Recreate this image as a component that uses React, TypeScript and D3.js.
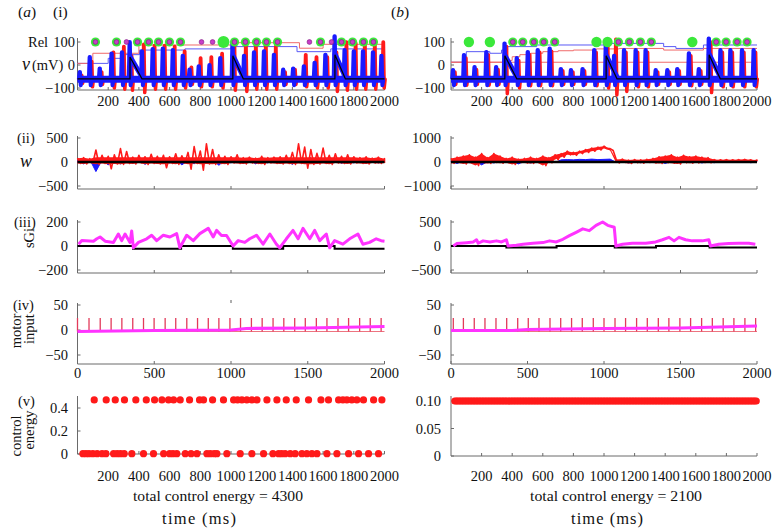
import React from "react";
import * as d3 from "d3";

// ---------------- shared ticks ----------------
const xTicksFine = [200, 400, 600, 800, 1000, 1200, 1400, 1600, 1800, 2000];
const xTicksCoarse = [0, 500, 1000, 1500, 2000];

// ---------------- row (i): membrane potential ----------------
const burstTimeA = [15, 80, 145, 222, 290, 340, 420, 490, 556, 621, 686, 730, 790, 860, 930, 1010, 1085, 1150, 1215, 1280, 1340, 1405, 1475, 1545, 1615, 1675, 1740, 1800, 1860, 1925, 1980];
const burstBlueA = [-30, 35, -15, 50, 55, 100, 60, 70, 72, 65, 40, -20, -5, 0, 30, 95, 40, 55, 60, 45, -20, -15, -5, 10, 45, 125, 65, 60, 60, 55, 40];
const burstRedA = [-45, 15, -30, 55, 80, 40, 90, 85, 85, 80, 60, -10, 30, 35, 50, 100, 95, 90, 90, 80, -30, -20, 45, 35, 35, 55, 100, 95, 95, 90, 100];
const burstRedTroughA = [-80, -95, -85, -100, -105, -110, -120, -105, -105, -105, -100, -85, -95, -95, -100, -110, -115, -105, -105, -105, -85, -85, -95, -100, -100, -115, -110, -105, -105, -105, -100];

const burstTimeB = [13, 85, 154, 231, 295, 350, 430, 502, 567, 645, 718, 784, 860, 936, 1012, 1066, 1131, 1207, 1272, 1338, 1414, 1479, 1555, 1620, 1685, 1761, 1826, 1902, 1978];
const burstBlueB = [-22, 43, -9, 57, -9, 94, 30, 57, 65, 72, -17, -22, -17, 65, 94, 40, 65, 65, 65, -22, -22, -17, 51, -17, 115, 65, 65, 65, 65];
const burstRedB = [-30, 30, -20, 45, -20, 80, 20, 45, 55, 60, -25, -30, -25, 55, 80, 112, 55, 55, 55, -30, -30, -25, 40, -25, 100, 55, 55, 55, 55];
const burstRedTroughB = [-85, -88, -85, -88, -85, -125, -100, -90, -90, -90, -85, -85, -85, -90, -100, -130, -115, -95, -95, -85, -85, -85, -90, -85, -120, -95, -95, -95, -95];

const vBase = -62;
const vBlueTrough = -88;

const rampStartA = [342, 1012, 1677];
const rampEndA = [420, 1080, 1745];
const rampTopA = [35, 40, 45];
const rampStartB = [352, 1014, 1687];
const rampEndB = [430, 1085, 1760];
const rampTopB = [40, 40, 45];
const rampBottom = -52;

const relRedTA = [0, 100, 400, 1010, 1446, 1600, 2000];
const relRedVA = [7, 51, 87, 97, 73, 90, 90];
const relBlueTA = [0, 200, 300, 404, 700, 1000, 1430, 1650, 2000];
const relBlueVA = [7, 29, 45, 65, 70, 80, 58, 70, 70];
const relRedTB = [0, 370, 400, 450, 520, 600, 700, 800, 950, 1100, 1390, 1650, 2000];
const relRedVB = [12, 20, 36, 45, 51, 58, 62, 65, 70, 72, 65, 72, 72];
const relRedLowVB = 12;
const relBlueTB = [0, 100, 254, 330, 370, 560, 1000, 1390, 1470, 1650, 2000];
const relBlueVB = [12, 58, 51, 65, 80, 87, 94, 80, 72, 87, 87];

const greenMagA = [117, 254, 391, 463, 528, 599, 671, 1023, 1094, 1166, 1231, 1303, 1583, 1720, 1792, 1863, 1928];
const greenOnlyA = [951];
const magOnlyA = [319, 808, 880, 1511, 1655];
const greenMagB = [404, 469, 541, 606, 678, 1094, 1166, 1238, 1309, 1733, 1798, 1870, 1935];
const greenOnlyB = [117, 254, 951, 1023, 1577];
const magOnlyB: number[] = [];
const markerLevel = 100;

// ---------------- row (ii): w ----------------
const wStep = 40;
const redUpA = [80, 90, 70, 250, 140, 120, 150, 280, 220, 100, 140, 110, 160, 120, 140, 110, 170, 130, 200, 320, 230, 380, 260, 150, 120, 110, 150, 90, 100, 80, 120, 90, 100, 110, 140, 200, 380, 310, 260, 180, 290, 140, 170, 120, 150, 110, 90, 110, 80, 100, 70];
const redLoA = [-30, -40, -20, -50, -30, -140, -40, -50, -30, -40, -20, -50, -30, -40, -120, -30, -50, -20, -150, -30, -170, -40, -50, -30, -50, -20, -30, -40, -20, -30, -50, -20, -30, -40, -30, -50, -30, -130, -50, -40, -30, -50, -20, -30, -40, -20, -30, -40, -20, -30, -20];
const blueWA = [30, -40, 50, -200, 40, -60, 60, -40, 70, -30, 60, -50, 40, -30, 80, -20, 50, -60, 30, -40, 90, -30, 60, -70, 40, -20, 60, -30, 50, -40, 30, -20, 50, -30, 40, -50, 70, -30, 90, -40, 60, -20, 80, -30, 50, -20, 40, -30, 50, -20, 30];
const redUpB = [150, 200, 250, 300, 200, 350, 180, 350, 250, 150, 200, 120, 150, 200, 150, 250, 180, 300, 350, 450, 400, 450, 520, 580, 620, 660, 560, 100, 120, 80, 100, 90, 110, 150, 220, 250, 300, 200, 280, 220, 250, 200, 180, 100, 90, 100, 90, 100, 110, 90, 80];
const redLoB = [-60, -20, -80, -40, -150, -30, -60, -20, -50, -30, -100, -20, -40, -60, -20, -150, -30, 100, 200, 300, 280, 350, 400, 450, 500, 560, 480, -40, -20, -60, -30, -50, -20, -40, -60, -30, -50, -80, -30, -50, -40, -20, -30, 20, 30, 20, 30, 20, 30, 20, 30];
const blueWB = [20, -60, 30, -30, 40, -120, 20, -40, 30, -20, 40, -80, 30, -40, 20, -30, 40, -20, 90, 100, 90, 110, 100, 120, 100, 110, 120, -20, 30, -40, 20, -30, 40, -20, 30, -60, 20, -30, 40, -20, 30, -40, 20, -30, 20, -20, 30, -20, 20, -30, 20];
const wCoreHigh = 100;
const wCoreLow = -45;

// ---------------- row (iii): sGi ----------------
const sgiTA = [7, 28, 104, 126, 147, 180, 234, 266, 288, 310, 342, 353, 364, 397, 451, 483, 516, 559, 602, 646, 667, 711, 754, 797, 852, 884, 906, 938, 971, 1014, 1047, 1090, 1122, 1166, 1209, 1253, 1296, 1317, 1361, 1404, 1437, 1469, 1513, 1545, 1578, 1621, 1643, 1675, 1729, 1773, 1827, 1859, 1903, 1946, 1978, 2000];
const sgiVA = [15, 45, 40, 60, 75, 40, 30, 100, 45, 100, 30, 125, -15, 30, 60, 90, 45, 90, 75, 103, -15, 90, 45, 103, 147, 75, 130, 88, 88, 0, 45, 30, 60, 90, 15, 100, 15, -15, 60, 130, 60, 147, 60, 130, 45, 100, -15, 45, 15, 60, 100, 15, 30, 60, 44, 40];
const sgiBlackTA = [0, 362, 675, 1012, 1340, 1675, 2000];
const sgiBlackVA = [0, -22, 0, -22, 0, -22, -22];
const sgiTB = [15, 37, 102, 145, 167, 178, 210, 254, 297, 330, 362, 373, 427, 471, 536, 601, 644, 688, 731, 774, 818, 861, 904, 948, 991, 1024, 1067, 1078, 1121, 1186, 1273, 1338, 1382, 1425, 1458, 1490, 1533, 1577, 1642, 1685, 1696, 1750, 1815, 1881, 1946, 1989];
const sgiVB = [0, 50, 70, 85, 130, 57, 107, 85, 107, 85, 130, 0, 14, 36, 57, 71, 107, 85, 140, 215, 285, 357, 320, 430, 500, 430, 390, 0, 36, 57, 57, 85, 130, 180, 107, 180, 130, 107, 107, 130, 0, 36, 50, 57, 57, 36];
const sgiBlackTB = [0, 362, 690, 1070, 1340, 1690, 2000];
const sgiBlackVB = [0, -30, 0, -30, 0, -30, -30];

// ---------------- row (iv): motor input ----------------
const pulseTA = [0, 75, 148, 219, 289, 360, 430, 499, 571, 640, 712, 782, 852, 921, 993, 1062, 1133, 1203, 1274, 1344, 1415, 1484, 1556, 1625, 1697, 1766, 1838, 1907, 1978];
const pulseTB = [15, 81, 152, 222, 294, 364, 436, 505, 575, 647, 717, 788, 858, 930, 1000, 1072, 1141, 1213, 1283, 1355, 1424, 1496, 1566, 1638, 1708, 1779, 1849, 1921, 1991];
const pulseTop = 24;
const pulseBase = -3;
const motorTA = [0, 500, 1000, 1100, 1500, 2000];
const motorVA = [-3, -1, 0, 3, 4, 7];
const motorTB = [0, 400, 500, 1000, 1500, 2000];
const motorVB = [-1, -1, 1, 3, 4, 8];

// ---------------- row (v): control energy ----------------
const ceHighA = 0.47;
const ceLowA = 0.003;
const ceUpperTA = [109, 187, 246, 306, 380, 448, 502, 550, 593, 626, 669, 730, 795, 821, 880, 951, 1017, 1043, 1071, 1103, 1136, 1169, 1234, 1299, 1360, 1425, 1505, 1586, 1635, 1701, 1729, 1755, 1787, 1820, 1863, 1929, 1983];
const ceLowerTA = [35, 55, 75, 100, 128, 160, 185, 235, 258, 280, 304, 354, 430, 495, 561, 600, 622, 647, 702, 740, 778, 843, 865, 890, 908, 973, 1060, 1136, 1212, 1273, 1310, 1330, 1353, 1386, 1418, 1462, 1494, 1527, 1560, 1625, 1690, 1766, 1831, 1896, 1961];
const ceLevelB = 0.1;
const ceSampleTB = d3.range(25, 2001, 10);
const totalEnergyA = 4300;
const totalEnergyB = 2100;

// ---------------- styling ----------------
const FONT = "'Liberation Serif', 'Times New Roman', Times, serif";
const AX = "#6a6a6a";
const RED = "#ff1a1a";
const BLUE = "#1a1aff";
const MAG = "#ff33ff";
const GREEN = "#3be83b";
const TXT = "#111";
const FS = 14.5;

type P = [number, number];

function spikeTrace(times: number[], peaks: number[], troughs: number[], shift: number): P[] {
  const pts: P[] = [[0, vBase]];
  times.forEach((t0, i) => {
    const t = t0 + shift;
    pts.push([t - 6, vBase], [t - 1, peaks[i]], [t + 1, peaks[i]], [t + 6, troughs[i]], [t + 12, vBase]);
  });
  pts.push([2000, vBase]);
  return pts;
}

type PanelData = {
  xRange: [number, number];
  bt: number[]; bb: number[]; br: number[]; brt: number[];
  rs: number[]; re: number[]; rtop: number[];
  relR: P[]; relB: P[]; relR2?: P[];
  gm: number[]; go: number[]; mo: number[]; goR: number;
  wDomain: number; redUp: number[]; redLo: number[]; blueW: number[]; wCore: boolean;
  sDomain: number; sgi: P[]; sgiBlack: P[];
  pulses: number[]; motor: P[];
  vDomain: [number, number]; vRange: [number, number];
  ceTicks: number[]; ceFmt: (v: number) => string;
  ceDots: P[];
  labelRightI: number; labelRight: number;
  total: number; totalX: number; totalW: number; timeX: number; timeW: number;
};

function YAxis({ x0, y, ticks, top, bottom, right, fmt }: { x0: number; y: d3.ScaleLinear<number, number>; ticks: number[]; top: number; bottom: number; right: number; fmt: (v: number) => string }) {
  return (
    <g>
      <line x1={x0} x2={x0} y1={top} y2={bottom} stroke={AX} strokeWidth={1} />
      {ticks.map((t) => (
        <g key={t}>
          <line x1={x0} x2={x0 + 3} y1={y(t)} y2={y(t)} stroke={AX} />
          <text x={right} y={y(t)} dy="0.35em" textAnchor="end" fontSize={FS} fill={TXT}>{fmt(t)}</text>
        </g>
      ))}
    </g>
  );
}

function XAxis({ x, y0, ticks, labels, labelY }: { x: d3.ScaleLinear<number, number>; y0: number; ticks: number[]; labels?: boolean; labelY?: number }) {
  return (
    <g>
      <line x1={x(0)} x2={x(2000)} y1={y0} y2={y0} stroke={AX} />
      {ticks.map((t) => (
        <line key={t} x1={x(t)} x2={x(t)} y1={y0} y2={y0 - 3} stroke={AX} />
      ))}
      {labels && ticks.map((t) => (
        <text key={"l" + t} x={x(t)} y={labelY} dy="0.35em" textAnchor="middle" fontSize={FS} fill={TXT}>{t}</text>
      ))}
    </g>
  );
}

const fmtNum = (v: number) => (v < 0 ? "\u2212" + Math.abs(v) : String(v));

function Panel({ d }: { d: PanelData }) {
  const x = d3.scaleLinear().domain([0, 2000]).range(d.xRange);
  const x0 = d.xRange[0];
  const y1 = d3.scaleLinear().domain([-100, 100]).range([88, 42]);
  const y2 = d3.scaleLinear().domain([-d.wDomain, d.wDomain]).range([186, 138]);
  const y3 = d3.scaleLinear().domain([-d.sDomain, d.sDomain]).range([270, 222]);
  const y4 = d3.scaleLinear().domain([-50, 50]).range([355, 305]);
  const y5 = d3.scaleLinear().domain(d.vDomain).range(d.vRange);

  const l1 = d3.line<P>().x((p) => x(p[0])).y((p) => y1(p[1]));
  const step1 = d3.line<P>().x((p) => x(p[0])).y((p) => y1(p[1])).curve(d3.curveStepAfter);

  const red = spikeTrace(d.bt, d.br, d.brt, 12);
  const blue = spikeTrace(d.bt, d.bb, d.bt.map(() => vBlueTrough), 0);
  const black: P[] = [[0, vBase + 2]];
  d.rs.forEach((s, i) => {
    black.push([s, vBase + 2], [s, d.rtop[i]], [d.re[i], vBase + 2]);
  });
  black.push([2000, vBase + 2]);

  // row ii
  const wT = d.redUp.map((_, i) => i * wStep);
  const redCore = d3.area<number>().x((_, i) => x(wT[i]))
    .y0((_, i) => y2(Math.max(d.redLo[i], wCoreLow)))
    .y1((v) => y2(Math.min(v, wCoreHigh)));
  const redArea = d3.area<number>().x((_, i) => x(wT[i])).y0((_, i) => y2(d.redLo[i])).y1((v) => y2(v));
  const redZig: P[] = [];
  wT.forEach((t, i) => {
    redZig.push([t, d.redUp[i]], [Math.min(t + 20, 2000), d.redLo[i]]);
  });
  const l2 = d3.line<P>().x((p) => x(p[0])).y((p) => y2(p[1]));
  const blueArea = d3.area<number>().x((_, i) => x(wT[i])).y0(y2(0)).y1((v) => y2(v));

  const l3 = d3.line<P>().x((p) => x(p[0])).y((p) => y3(p[1]));
  const s3 = d3.line<P>().x((p) => x(p[0])).y((p) => y3(p[1])).curve(d3.curveStepAfter);
  const l4 = d3.line<P>().x((p) => x(p[0])).y((p) => y4(p[1]));

  return (
    <g>
      {/* ---------- row (i) ---------- */}
      <YAxis x0={x0} y={y1} ticks={[-100, 0, 100]} top={38} bottom={90} right={d.labelRightI} fmt={fmtNum} />
      <XAxis x={x} y0={90} ticks={xTicksFine} labels labelY={101} />
      <path d={step1(d.relB) || ""} fill="none" stroke="#5a5af5" strokeWidth={1} />
      <path d={step1(d.relR) || ""} fill="none" stroke="#f06a6a" strokeWidth={1} />
      {d.relR2 && <path d={step1(d.relR2) || ""} fill="none" stroke="#f06a6a" strokeWidth={1} />}
      <path d={l1(red) || ""} fill="none" stroke={RED} strokeWidth={3.5} strokeLinejoin="round" />
      <line x1={x(0)} x2={x(2000)} y1={y1(vBase)} y2={y1(vBase)} stroke={BLUE} strokeWidth={7} />
      <path d={l1(blue) || ""} fill="none" stroke={BLUE} strokeWidth={4} strokeLinejoin="round" />
      {d.rs.map((s, i) => (
        <line key={i} x1={x(s + 2)} y1={y1(d.rtop[i])} x2={x(d.re[i])} y2={y1(rampBottom)} stroke={BLUE} strokeWidth={5} strokeLinecap="round" />
      ))}
      <path d={l1(black) || ""} fill="none" stroke="#000" strokeWidth={1.2} />
      {d.go.map((t) => (
        <circle key={"go" + t} cx={x(t)} cy={y1(markerLevel)} r={d.goR} fill={GREEN} />
      ))}
      {d.gm.map((t) => (
        <g key={"gm" + t}>
          <circle cx={x(t)} cy={y1(markerLevel)} r={4.6} fill={GREEN} />
          <circle cx={x(t)} cy={y1(markerLevel)} r={2.4} fill="#c83cc8" stroke="#7a1a7a" strokeWidth={0.6} />
        </g>
      ))}
      {d.mo.map((t) => (
        <circle key={"mo" + t} cx={x(t)} cy={y1(markerLevel)} r={2.4} fill="#c83cc8" stroke="#7a1a7a" strokeWidth={0.6} />
      ))}

      {/* ---------- row (ii) ---------- */}
      <YAxis x0={x0} y={y2} ticks={[-d.wDomain, 0, d.wDomain]} top={136} bottom={189} right={d.labelRight} fmt={fmtNum} />
      <XAxis x={x} y0={189} ticks={xTicksCoarse} />
      <path d={blueArea(d.blueW) || ""} fill={BLUE} stroke={BLUE} strokeWidth={1} />
      {d.wCore
        ? <path d={redCore(d.redUp) || ""} fill={RED} stroke="none" />
        : <path d={redArea(d.redUp) || ""} fill={RED} stroke="none" />}
      <path d={l2(redZig) || ""} fill="none" stroke={RED} strokeWidth={1.6} strokeLinejoin="round" />
      <line x1={x(0)} x2={x(2000)} y1={y2(0)} y2={y2(0)} stroke="#000" strokeWidth={2.5} />

      {/* ---------- row (iii) ---------- */}
      <YAxis x0={x0} y={y3} ticks={[-d.sDomain, 0, d.sDomain]} top={220} bottom={273} right={d.labelRight} fmt={fmtNum} />
      <XAxis x={x} y0={273} ticks={xTicksCoarse} />
      <path d={s3(d.sgiBlack) || ""} fill="none" stroke="#000" strokeWidth={2} />
      <path d={l3(d.sgi) || ""} fill="none" stroke={MAG} strokeWidth={3} strokeLinejoin="round" />

      {/* ---------- row (iv) ---------- */}
      <YAxis x0={x0} y={y4} ticks={[-50, 0, 50]} top={303} bottom={364} right={d.labelRight} fmt={fmtNum} />
      <XAxis x={x} y0={364} ticks={xTicksCoarse} labels labelY={373} />
      <line x1={x(0)} x2={x(2000)} y1={y4(pulseBase)} y2={y4(pulseBase)} stroke="#e8505f" strokeWidth={0.8} />
      {d.pulses.map((t) => (
        <line key={t} x1={x(t)} x2={x(t)} y1={y4(pulseBase)} y2={y4(pulseTop)} stroke="#e23a5a" strokeWidth={1.3} />
      ))}
      <path d={l4(d.motor) || ""} fill="none" stroke={MAG} strokeWidth={3.2} />

      {/* ---------- row (v) ---------- */}
      <YAxis x0={x0} y={y5} ticks={d.ceTicks} top={396} bottom={d.vRange[0]} right={d.labelRight} fmt={d.ceFmt} />
      <XAxis x={x} y0={d.vRange[0]} ticks={xTicksFine} labels labelY={476} />
      {d.ceDots.map((p, i) => (
        <circle key={i} cx={x(p[0])} cy={y5(p[1])} r={3.6} fill={RED} />
      ))}
      <text x={d.totalX} y={496} dy="0.35em" textAnchor="middle" fontSize={15} fill={TXT}
        textLength={d.totalW} lengthAdjust="spacingAndGlyphs">total control energy = {d.total}</text>
      <text x={d.timeX} y={518} dy="0.35em" textAnchor="middle" fontSize={16.5} fill={TXT}
        textLength={d.timeW} lengthAdjust="spacing">time (ms)</text>
    </g>
  );
}

const zip = (a: number[], b: number[]): P[] => a.map((t, i) => [t, b[i]]);

const panelA: PanelData = {
  xRange: [77.5, 384.5],
  bt: burstTimeA, bb: burstBlueA, br: burstRedA, brt: burstRedTroughA,
  rs: rampStartA, re: rampEndA, rtop: rampTopA,
  relR: zip(relRedTA, relRedVA), relB: zip(relBlueTA, relBlueVA),
  gm: greenMagA, go: greenOnlyA, mo: magOnlyA, goR: 6,
  wDomain: 500, redUp: redUpA, redLo: redLoA, blueW: blueWA, wCore: true,
  sDomain: 200, sgi: zip(sgiTA, sgiVA), sgiBlack: zip(sgiBlackTA, sgiBlackVA),
  pulses: pulseTA, motor: zip(motorTA, motorVA),
  vDomain: [0, 0.4], vRange: [454, 408],
  ceTicks: [0, 0.2, 0.4], ceFmt: (v) => (v === 0 ? "0" : v.toFixed(1)),
  ceDots: [...ceLowerTA.map((t) => [t, ceLowA] as P), ...ceUpperTA.map((t) => [t, ceHighA] as P)],
  labelRightI: 75, labelRight: 68,
  total: totalEnergyA, totalX: 218, totalW: 170, timeX: 199, timeW: 74,
};

const panelB: PanelData = {
  xRange: [451, 757],
  bt: burstTimeB, bb: burstBlueB, br: burstRedB, brt: burstRedTroughB,
  rs: rampStartB, re: rampEndB, rtop: rampTopB,
  relR: zip(relRedTB, relRedVB), relB: zip(relBlueTB, relBlueVB),
  relR2: [[0, relRedLowVB], [2000, relRedLowVB]],
  gm: greenMagB, go: greenOnlyB, mo: magOnlyB, goR: 5.2,
  wDomain: 1000, redUp: redUpB, redLo: redLoB, blueW: blueWB, wCore: false,
  sDomain: 500, sgi: zip(sgiTB, sgiVB), sgiBlack: zip(sgiBlackTB, sgiBlackVB),
  pulses: pulseTB, motor: zip(motorTB, motorVB),
  vDomain: [0, 0.1], vRange: [456, 401],
  ceTicks: [0, 0.05, 0.1], ceFmt: (v) => (v === 0 ? "0" : v.toFixed(2)),
  ceDots: ceSampleTB.map((t) => [t, ceLevelB] as P),
  labelRightI: 445, labelRight: 441,
  total: totalEnergyB, totalX: 616, totalW: 172, timeX: 607, timeW: 72,
};

export default function App() {
  const xA = d3.scaleLinear().domain([0, 2000]).range(panelA.xRange);
  return (
    <svg width={776} height={532} viewBox="0 0 776 532" fontFamily={FONT}
      style={{ position: "absolute", left: 0, top: 0, background: "#fff", fontFamily: FONT }}>
      <rect x={0} y={0} width={776} height={532} fill="#fff" />
      <Panel d={panelA} />
      <Panel d={panelB} />
      {/* stray mark above (a)(iv) */}
      <line x1={xA(1000)} x2={xA(1000)} y1={300} y2={303} stroke="#333" strokeWidth={0.8} />

      {/* panel and row labels */}
      <text x={18} y={17} fontSize={15.5} fill={TXT}>(<tspan fontStyle="italic">a</tspan>)</text>
      <text x={53} y={17} fontSize={15.5} fill={TXT}>(i)</text>
      <text x={391} y={17} fontSize={15.5} fill={TXT}>(<tspan fontStyle="italic">b</tspan>)</text>
      <text x={28} y={42} dy="0.35em" fontSize={FS} fill={TXT}>Rel</text>
      <text x={22} y={65} dy="0.35em" fontSize={FS} fill={TXT}><tspan fontStyle="italic" fontSize={18}>v</tspan><tspan dx={2}>(mV)</tspan></text>
      <text x={17} y={138} dy="0.35em" fontSize={FS} fill={TXT}>(ii)</text>
      <text x={20} y={162} dy="0.3em" fontSize={18} fontStyle="italic" fill={TXT}>w</text>
      <text x={14} y={222} dy="0.35em" fontSize={FS} fill={TXT}>(iii)</text>
      <text transform="translate(34,238) rotate(-90)" textAnchor="middle" fontSize={FS} fill={TXT}>sGi</text>
      <text x={13} y={305} dy="0.35em" fontSize={FS} fill={TXT}>(iv)</text>
      <text transform="translate(21,331) rotate(-90)" textAnchor="middle" fontSize={FS} fill={TXT}>motor</text>
      <text transform="translate(34,329) rotate(-90)" textAnchor="middle" fontSize={FS} fill={TXT}>input</text>
      <text x={18} y={401} dy="0.35em" fontSize={FS} fill={TXT}>(v)</text>
      <text transform="translate(21,436) rotate(-90)" textAnchor="middle" fontSize={FS} fill={TXT}>control</text>
      <text transform="translate(34,430) rotate(-90)" textAnchor="middle" fontSize={FS} fill={TXT}>energy</text>
    </svg>
  );
}
